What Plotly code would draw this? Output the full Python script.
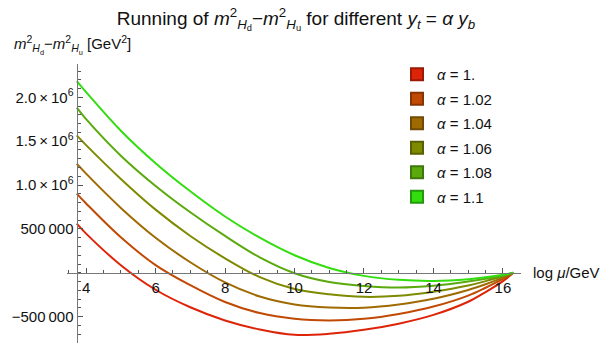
import plotly.graph_objects as go

# ---------------- data ----------------
log_mu = [3.73, 4, 5, 6, 7, 8, 9, 10, 11, 12, 13, 14, 15, 15.5, 16, 16.3]

alpha_labels = ["1.", "1.02", "1.04", "1.06", "1.08", "1.1"]

diff_a100 = [560000, 447000, 87000, -193000, -393000, -543000, -646000, -707000,
             -695000, -650000, -580000, -480000, -330000, -220000, -95000, 0]
diff_a102 = [902000, 790000, 405000, 88000, -141000, -333000, -459000, -524000,
             -543000, -525000, -470000, -385000, -260000, -170000, -70000, 0]
diff_a104 = [1244000, 1130000, 740000, 400000, 120000, -110000, -270000, -360000,
             -395000, -397000, -360000, -295000, -195000, -130000, -55000, 0]
diff_a106 = [1566000, 1455000, 1070000, 720000, 420000, 165000, -50000, -185000,
             -245000, -274000, -262000, -215000, -145000, -95000, -40000, 0]
diff_a108 = [1882000, 1752000, 1335000, 990000, 690000, 420000, 175000, -5000,
             -105000, -150000, -168000, -148000, -100000, -68000, -30000, 0]
diff_a110 = [2185000, 2060000, 1620000, 1250000, 929000, 642000, 400000, 200000,
             55000, -35000, -80000, -92000, -72000, -50000, -22000, 0]

series = [diff_a100, diff_a102, diff_a104, diff_a106, diff_a108, diff_a110]

y_tickvals = [-500000, 500000, 1000000, 1500000, 2000000]
y_ticktext = ["\u2212500\u2009000", "500\u2009000", "1.0\u2009\u00d7\u200910<sup>6</sup>",
              "1.5\u2009\u00d7\u200910<sup>6</sup>", "2.0\u2009\u00d7\u200910<sup>6</sup>"]
x_tickvals = [4, 6, 8, 10, 12, 14, 16]

# ---------------- styling ----------------
line_colors = ["#DE2408", "#C04A04", "#A06A02", "#7E8A00", "#5AAA0E", "#33DD10"]
edge_colors = ["#9A1A06", "#863403", "#704A02", "#586000", "#3F770A", "#24990B"]
FONT = "Liberation Sans, Arial, sans-serif"
AXIS_COL = "#777777"

W, H = 610, 347
ML, MR, MT, MB = 67, 89, 64, 4
x_range = [3.45, 16.52]
y_range = [-800000, 2380000]

fig = go.Figure()

for vals, col in zip(series, line_colors):
    fig.add_trace(go.Scatter(
        x=log_mu, y=vals, mode="lines",
        line=dict(color=col, width=2, shape="spline", smoothing=1.0),
        showlegend=False, hoverinfo="skip"))

for i, (lab, col, ec) in enumerate(zip(alpha_labels, line_colors, edge_colors)):
    fig.add_trace(go.Scatter(
        x=[None], y=[None], mode="markers",
        marker=dict(symbol="square", size=11, color=col, line=dict(color=ec, width=1)),
        name="<i>\u03b1</i> = " + lab, legendgroup="g%d" % i, showlegend=True))

ypos_frac = (log_mu[0] - x_range[0]) / (x_range[1] - x_range[0])
xpos_frac = (0 - y_range[0]) / (y_range[1] - y_range[0])
PW, PH = W - ML - MR, H - MT - MB

fig.update_layout(
    width=W, height=H,
    margin=dict(l=ML, r=MR, t=MT, b=MB, pad=0),
    paper_bgcolor="white", plot_bgcolor="white",
    font=dict(family=FONT, size=15, color="#111111"),
    title=dict(
        text=("Running of <i>m</i><sup>2</sup><sub><i>H</i><sub>d</sub></sub>"
              "\u2212<i>m</i><sup>2</sup><sub><i>H</i><sub>u</sub></sub>"
              " for different <i>y</i><sub><i>t</i></sub> = <i>\u03b1 y</i><sub><i>b</i></sub>"),
        x=296 / W, xanchor="center", y=1 - 18 / H, yanchor="middle",
        font=dict(size=19, family=FONT, color="#111111")),
    xaxis=dict(
        range=x_range, anchor="free", position=xpos_frac, side="bottom",
        showgrid=False, zeroline=False,
        showline=True, linecolor=AXIS_COL, linewidth=1.3,
        tickmode="array", tickvals=x_tickvals,
        ticks="inside", ticklen=5, tickwidth=1, tickcolor="#555555",
        minor=dict(dtick=0.5, tick0=0, ticks="inside", ticklen=3, tickcolor="#555555"),
        tickfont=dict(size=15, family=FONT, color="#111111"),
        ticklabelstandoff=1),
    yaxis=dict(
        range=y_range, anchor="free", position=ypos_frac, side="left",
        showgrid=False, zeroline=False,
        showline=True, linecolor=AXIS_COL, linewidth=1.3,
        tickmode="array", tickvals=y_tickvals, ticktext=y_ticktext,
        ticks="inside", ticklen=5, tickwidth=1, tickcolor="#555555",
        minor=dict(dtick=100000, tick0=0, ticks="inside", ticklen=3, tickcolor="#555555"),
        tickfont=dict(size=15, family=FONT, color="#111111")),
    legend=dict(
        x=(397 - ML) / PW, xanchor="left",
        y=1 - (58 - MT) / PH, yanchor="top",
        font=dict(size=15, family=FONT, color="#111111"),
        tracegroupgap=2, bgcolor="rgba(0,0,0,0)", borderwidth=0,
        itemsizing="constant"),
    annotations=[
        dict(text=("<i>m</i><sup>2</sup><sub><i>H</i><sub>d</sub></sub>\u2212"
                   "<i>m</i><sup>2</sup><sub><i>H</i><sub>u</sub></sub> [GeV<sup>2</sup>]"),
             xref="paper", yref="paper",
             x=(12 - ML) / PW, xanchor="left",
             y=1 + (MT - 45) / PH, yanchor="middle",
             showarrow=False, font=dict(size=15, family=FONT, color="#111111")),
        dict(text="log <i>\u03bc</i>/GeV",
             xref="paper", yref="y",
             x=(531 - ML) / PW, xanchor="left",
             y=0, yanchor="middle",
             showarrow=False, font=dict(size=15, family=FONT, color="#111111")),
    ],
)

fig.write_html("out.html")
